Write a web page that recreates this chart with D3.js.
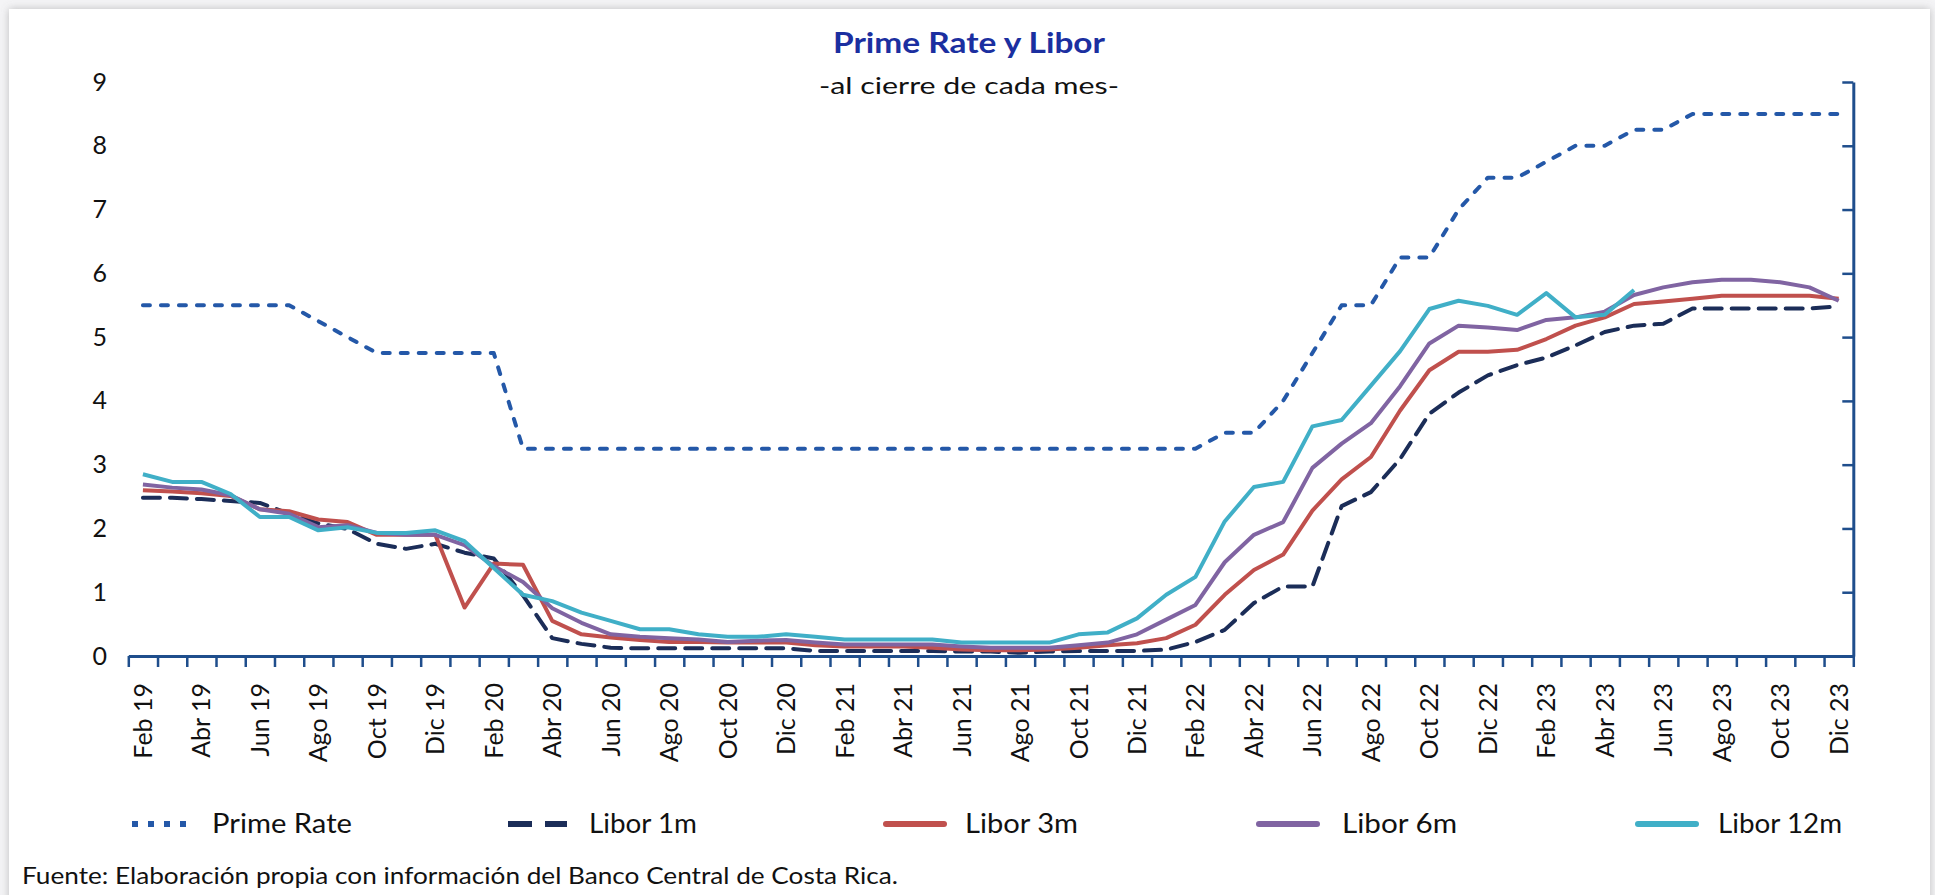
<!DOCTYPE html>
<html><head><meta charset="utf-8">
<script src="https://cdn.jsdelivr.net/npm/d3@7"></script>
<style>
html,body{margin:0;padding:0;background:#fff;}
svg{display:block;}
text{font-family:Lato,"Open Sans",sans-serif;}
</style></head>
<body><svg id="chart" width="1935" height="895"></svg>
<script>
const categories = ["Feb 19","Mar 19","Abr 19","May 19","Jun 19","Jul 19","Ago 19","Sep 19","Oct 19","Nov 19","Dic 19",
"Ene 20","Feb 20","Mar 20","Abr 20","May 20","Jun 20","Jul 20","Ago 20","Sep 20","Oct 20","Nov 20","Dic 20",
"Ene 21","Feb 21","Mar 21","Abr 21","May 21","Jun 21","Jul 21","Ago 21","Sep 21","Oct 21","Nov 21","Dic 21",
"Ene 22","Feb 22","Mar 22","Abr 22","May 22","Jun 22","Jul 22","Ago 22","Sep 22","Oct 22","Nov 22","Dic 22",
"Ene 23","Feb 23","Mar 23","Abr 23","May 23","Jun 23","Jul 23","Ago 23","Sep 23","Oct 23","Nov 23","Dic 23"];
const xTickLabels = ["Feb 19","Abr 19","Jun 19","Ago 19","Oct 19","Dic 19","Feb 20","Abr 20","Jun 20","Ago 20","Oct 20","Dic 20",
"Feb 21","Abr 21","Jun 21","Ago 21","Oct 21","Dic 21","Feb 22","Abr 22","Jun 22","Ago 22","Oct 22","Dic 22",
"Feb 23","Abr 23","Jun 23","Ago 23","Oct 23","Dic 23"];
const yTicks = [0,1,2,3,4,5,6,7,8,9];

const primeRate = [5.5,5.5,5.5,5.5,5.5,5.5,5.25,5.0,4.75,4.75,4.75,4.75,4.75,
3.25,3.25,3.25,3.25,3.25,3.25,3.25,3.25,3.25,3.25,3.25,3.25,3.25,3.25,3.25,3.25,3.25,3.25,3.25,3.25,3.25,3.25,3.25,3.25,
3.5,3.5,4.0,4.75,5.5,5.5,6.25,6.25,7.0,7.5,7.5,7.75,8.0,8.0,8.25,8.25,8.5,8.5,8.5,8.5,8.5,8.5];
const libor1m = [2.48,2.48,2.46,2.43,2.40,2.23,2.08,1.99,1.76,1.68,1.76,1.62,1.53,0.95,0.28,0.19,0.13,0.12,0.12,0.12,0.12,0.12,0.12,
0.08,0.08,0.08,0.08,0.08,0.07,0.07,0.05,0.07,0.08,0.08,0.08,0.10,0.22,0.41,0.83,1.09,1.09,2.35,2.57,3.09,3.80,4.13,4.40,
4.56,4.68,4.87,5.08,5.18,5.21,5.45,5.45,5.45,5.45,5.45,5.48];
const libor3m = [2.60,2.58,2.55,2.51,2.30,2.27,2.14,2.10,1.90,1.90,1.90,0.76,1.45,1.43,0.55,0.34,0.29,0.25,0.22,0.22,0.21,0.21,0.21,
0.17,0.15,0.15,0.15,0.13,0.10,0.09,0.09,0.10,0.13,0.17,0.20,0.28,0.49,0.96,1.35,1.59,2.28,2.77,3.12,3.85,4.48,4.77,4.77,
4.80,4.97,5.18,5.31,5.52,5.56,5.60,5.65,5.65,5.65,5.65,5.60];
const libor6m = [2.69,2.64,2.61,2.52,2.30,2.23,2.02,2.05,1.93,1.90,1.90,1.74,1.41,1.16,0.75,0.52,0.34,0.30,0.28,0.26,0.22,0.24,0.25,
0.21,0.18,0.18,0.18,0.18,0.15,0.13,0.13,0.13,0.17,0.21,0.34,0.57,0.80,1.47,1.90,2.10,2.95,3.33,3.65,4.23,4.90,5.18,5.15,
5.11,5.27,5.31,5.40,5.66,5.78,5.86,5.90,5.90,5.86,5.78,5.57];
const libor12m = [2.85,2.73,2.73,2.54,2.18,2.18,1.97,2.02,1.93,1.93,1.97,1.80,1.38,0.96,0.86,0.68,0.55,0.42,0.42,0.34,0.30,0.30,0.34,
0.30,0.26,0.26,0.26,0.26,0.21,0.21,0.21,0.21,0.34,0.37,0.59,0.96,1.24,2.11,2.65,2.73,3.60,3.70,4.24,4.78,5.44,5.57,5.49,
5.35,5.69,5.31,5.35,5.74,null,null,null,null,null,null,null];

const seriesNames = ["Prime Rate","Libor 1m","Libor 3m","Libor 6m","Libor 12m"];
const seriesValues = [primeRate, libor1m, libor3m, libor6m, libor12m];
const seriesColors = ["#2458A8","#1B2D58","#C0504D","#8064A2","#40AFC7"];
const seriesDash = ["7,11","17,10",null,null,null];
const legendDash = ["6,10","24,13",null,null,null];

const svg = d3.select("#chart");
const defs = svg.append("defs");
const f = defs.append("filter").attr("id","sh").attr("x","-5%").attr("y","-5%").attr("width","110%").attr("height","110%");
f.append("feDropShadow").attr("dx",0).attr("dy",0).attr("stdDeviation",4).attr("flood-color","#777").attr("flood-opacity",0.45);
svg.append("rect").attr("x",0).attr("y",0).attr("width",1935).attr("height",895).attr("fill","#f4f4f6");
svg.append("rect").attr("x",9).attr("y",9).attr("width",1921).attr("height",905).attr("fill","#fff").attr("filter","url(#sh)");

const L = 128.3, R = 1853.3, Y0 = 656, Y9 = 82;
const x = d3.scaleBand().domain(categories).range([L,R]).padding(0);
const xb = d3.scaleLinear().domain([0,categories.length]).range([L,R]);
const y = d3.scaleLinear().domain([0,9]).range([Y0,Y9]);
const axisColor = "#1F4E8C";

// title
svg.append("text").attr("x",969).attr("y",53).attr("text-anchor","middle")
  .attr("font-size",29).attr("font-weight","bold").attr("fill","#1B2FA0")
  .attr("textLength",272).attr("lengthAdjust","spacingAndGlyphs").text("Prime Rate y Libor");
svg.append("text").attr("x",969).attr("y",94).attr("text-anchor","middle")
  .attr("font-size",24).attr("fill","#111")
  .attr("textLength",300).attr("lengthAdjust","spacingAndGlyphs").text("-al cierre de cada mes-");

// boundary ticks x-axis
const gx = svg.append("g").attr("transform",`translate(0,${Y0})`)
  .call(d3.axisBottom(xb).tickValues(d3.range(0,categories.length+1)).tickFormat("").tickSize(11).tickSizeOuter(0));
gx.select(".domain").attr("stroke",axisColor).attr("stroke-width",3);
gx.selectAll(".tick line").attr("stroke",axisColor).attr("stroke-width",2.5);

// x labels
const gxl = svg.append("g").attr("transform",`translate(0,${Y0})`)
  .call(d3.axisBottom(x).tickValues(xTickLabels).tickSize(0).tickPadding(0));
gxl.select(".domain").remove();
gxl.selectAll(".tick text").attr("font-size",25).attr("fill","#111").attr("font-family","Lato")
  .attr("text-anchor","end").attr("transform","rotate(-90)").attr("x",-27).attr("y",0).attr("dy","0.36em");

// right axis
const gr = svg.append("g").attr("transform",`translate(${R},0)`)
  .call(d3.axisLeft(y).tickValues(yTicks).tickFormat("").tickSize(11).tickSizeOuter(0));
gr.select(".domain").attr("stroke",axisColor).attr("stroke-width",3);
gr.selectAll(".tick line").attr("stroke",axisColor).attr("stroke-width",2.5);

// left labels
const gl = svg.append("g").attr("transform","translate(107,0)")
  .call(d3.axisLeft(y).tickValues(yTicks).tickFormat(d3.format("d")).tickSize(0).tickPadding(0));
gl.select(".domain").remove();
gl.selectAll(".tick text").attr("font-size",25).attr("fill","#111").attr("font-family","Lato");

// lines
const line = d3.line().defined(d=>d.v!=null).x(d=>x(d.c)+x.bandwidth()/2).y(d=>y(d.v));
seriesValues.forEach((vals,i)=>{
  const data = categories.map((c,j)=>({c, v: vals[j]}));
  svg.append("path").datum(data).attr("d",line).attr("fill","none")
    .attr("stroke",seriesColors[i]).attr("stroke-width",4)
    .attr("stroke-linejoin","round").attr("stroke-linecap", seriesDash[i] ? "round" : "butt")
    .attr("stroke-dasharray",seriesDash[i]);
});

// legend
const legX = [130,506,883,1256,1635];
const legTextX = [212,589,965,1342,1718];
const legTextW = [140,108,113,115,124];
const legY = 824;
seriesNames.forEach((n,i)=>{
  svg.append("line").attr("x1",legX[i]+ (legendDash[i]?2:3)).attr("x2",legX[i]+61).attr("y1",legY).attr("y2",legY)
    .attr("stroke",seriesColors[i]).attr("stroke-width",6)
    .attr("stroke-linecap", legendDash[i] ? "butt":"round").attr("stroke-dasharray",legendDash[i]);
  svg.append("text").attr("x",legTextX[i]).attr("y",legY).attr("dy","0.36em").attr("font-size",26).attr("fill","#111")
    .attr("textLength",legTextW[i]).attr("lengthAdjust","spacingAndGlyphs").text(n);
});

svg.append("text").attr("x",22).attr("y",884).attr("font-size",23).attr("fill","#111")
  .attr("textLength",876).attr("lengthAdjust","spacingAndGlyphs")
  .text("Fuente: Elaboración propia con información del Banco Central de Costa Rica.");
</script>
</body></html>
